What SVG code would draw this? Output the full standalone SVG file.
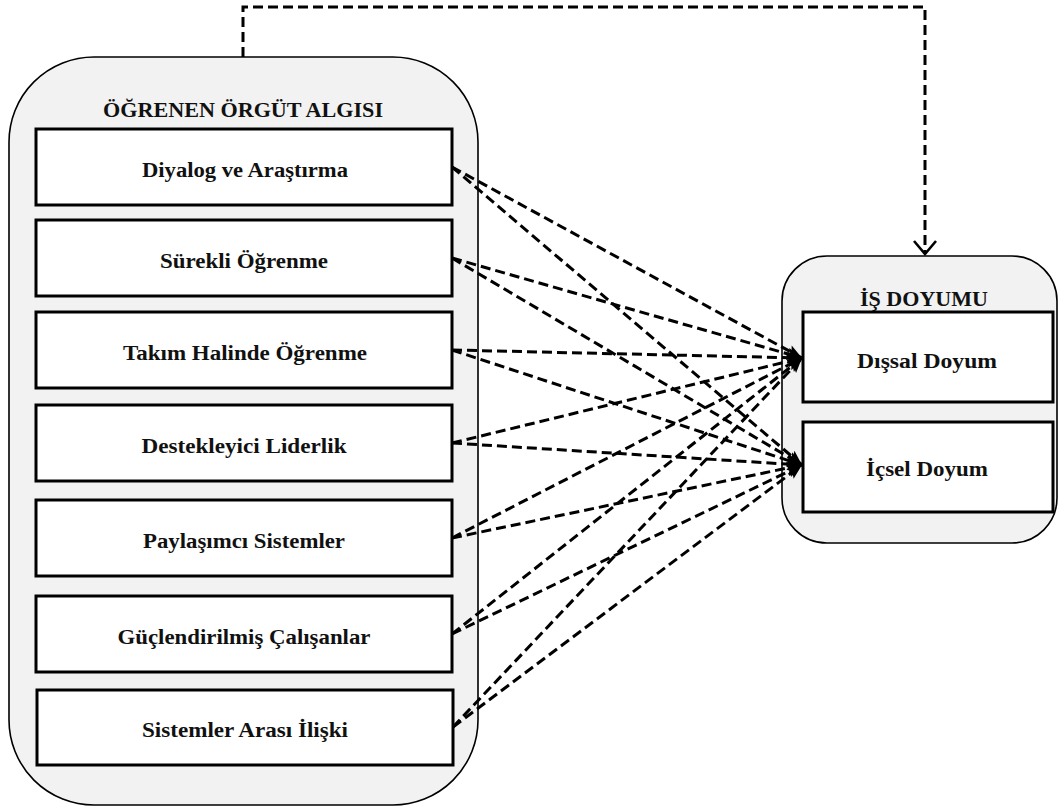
<svg xmlns="http://www.w3.org/2000/svg" width="1058" height="807" viewBox="0 0 1058 807">
<style>
.group{fill:#f2f2f2;stroke:#000;stroke-width:1.6}
.box{fill:#fff;stroke:#000;stroke-width:3}
.t{font-family:"Liberation Serif","Times New Roman",serif;font-weight:bold;font-size:20px;fill:#111;text-anchor:middle}
.title{font-size:21px}
.c{fill:none;stroke:#000;stroke-width:3;stroke-dasharray:10 5}
</style>
<defs>
<marker id="ah" markerUnits="userSpaceOnUse" markerWidth="18" markerHeight="14" refX="15" refY="6" orient="auto" overflow="visible">
<path d="M0,0 L15,6 L0,12 L3,6 z" fill="#000"/>
</marker>
<marker id="av" markerUnits="userSpaceOnUse" markerWidth="20" markerHeight="28" refX="14" refY="12" orient="auto" overflow="visible">
<path d="M1,1 L14,12 L1,23" fill="none" stroke="#000" stroke-width="2.6"/>
</marker>
</defs>
<g id="orgut">
<rect class="group" x="9" y="57" width="469" height="748" rx="85" ry="85"/>
<text class="t title" x="243" y="117" textLength="280" lengthAdjust="spacingAndGlyphs">ÖĞRENEN ÖRGÜT ALGISI</text>
</g>
<g id="diyalog"><rect class="box" x="36" y="129" width="416" height="76"/><text class="t" x="245" y="177" textLength="206" lengthAdjust="spacingAndGlyphs">Diyalog ve Araştırma</text></g>
<g id="surekli"><rect class="box" x="36" y="220" width="416" height="76"/><text class="t" x="244" y="268" textLength="168" lengthAdjust="spacingAndGlyphs">Sürekli Öğrenme</text></g>
<g id="takim"><rect class="box" x="36" y="312" width="416" height="76"/><text class="t" x="245" y="360" textLength="244" lengthAdjust="spacingAndGlyphs">Takım Halinde Öğrenme</text></g>
<g id="destek"><rect class="box" x="36" y="405" width="416" height="76"/><text class="t" x="244" y="453" textLength="205" lengthAdjust="spacingAndGlyphs">Destekleyici Liderlik</text></g>
<g id="paylasim"><rect class="box" x="36" y="500" width="416" height="76"/><text class="t" x="244" y="548" textLength="202" lengthAdjust="spacingAndGlyphs">Paylaşımcı Sistemler</text></g>
<g id="guclu"><rect class="box" x="36" y="596" width="416" height="76"/><text class="t" x="244" y="644" textLength="253" lengthAdjust="spacingAndGlyphs">Güçlendirilmiş Çalışanlar</text></g>
<g id="sistemler"><rect class="box" x="37" y="690" width="416" height="75"/><text class="t" x="245" y="737" textLength="206" lengthAdjust="spacingAndGlyphs">Sistemler Arası İlişki</text></g>
<g id="isdoyumu">
<rect class="group" x="782" y="256" width="275" height="287" rx="45" ry="45"/>
<text class="t title" x="924" y="306" textLength="128" lengthAdjust="spacingAndGlyphs">İŞ DOYUMU</text>
</g>
<g id="dissal"><rect class="box" x="803" y="312" width="250" height="90"/><text class="t" x="927" y="368" textLength="140" lengthAdjust="spacingAndGlyphs">Dışsal Doyum</text></g>
<g id="icsel"><rect class="box" x="803" y="422" width="250" height="90"/><text class="t" x="927" y="476" textLength="122" lengthAdjust="spacingAndGlyphs">İçsel Doyum</text></g>
<g id="connectors">
<path class="c" d="M243,57 V7 H925 V254" marker-end="url(#av)"/>
<line class="c" x1="452" y1="167" x2="802" y2="358" marker-end="url(#ah)"/>
<line class="c" x1="452" y1="167" x2="802" y2="465" marker-end="url(#ah)"/>
<line class="c" x1="452" y1="258" x2="802" y2="358" marker-end="url(#ah)"/>
<line class="c" x1="452" y1="258" x2="802" y2="465" marker-end="url(#ah)"/>
<line class="c" x1="452" y1="350" x2="802" y2="358" marker-end="url(#ah)"/>
<line class="c" x1="452" y1="350" x2="802" y2="465" marker-end="url(#ah)"/>
<line class="c" x1="452" y1="443" x2="802" y2="358" marker-end="url(#ah)"/>
<line class="c" x1="452" y1="443" x2="802" y2="465" marker-end="url(#ah)"/>
<line class="c" x1="452" y1="538" x2="802" y2="358" marker-end="url(#ah)"/>
<line class="c" x1="452" y1="538" x2="802" y2="465" marker-end="url(#ah)"/>
<line class="c" x1="452" y1="634" x2="802" y2="358" marker-end="url(#ah)"/>
<line class="c" x1="452" y1="634" x2="802" y2="465" marker-end="url(#ah)"/>
<line class="c" x1="453" y1="727" x2="802" y2="358" marker-end="url(#ah)"/>
<line class="c" x1="453" y1="727" x2="802" y2="465" marker-end="url(#ah)"/>
</g>
</svg>
